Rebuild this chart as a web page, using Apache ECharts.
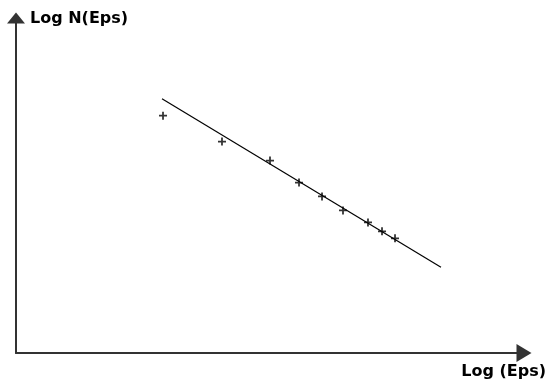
<!DOCTYPE html>
<html>
<head>
<meta charset="utf-8">
<script src="https://cdn.jsdelivr.net/npm/echarts@6/dist/echarts.min.js"></script>
<style>html,body{margin:0;padding:0;background:#fff}#c{width:550px;height:380px}</style>
</head>
<body>
<div id="c"></div>
<script>
// Measured points (log eps, log N(eps)) in arbitrary axis units
var logEps = [2.894, 4.055, 5.0, 5.571, 6.024, 6.437, 6.929, 7.205, 7.461];
var logN   = [7.083, 6.310, 5.744, 5.089, 4.673, 4.256, 3.899, 3.631, 3.423];
// Fitted regression line end points
var fitX = [2.874, 8.366];
var fitY = [7.589, 2.560];
var xName = 'Log (Eps)';
var yName = 'Log N(Eps)';

var pts = logEps.map(function (x, i) { return [x, logN[i]]; });
var fit = fitX.map(function (x, i) { return [x, fitY[i]]; });

var chart = echarts.init(document.getElementById('c'), null, {renderer: 'canvas'});
var axisCol = '#333';
var nameStyle = {fontFamily: 'DejaVu Sans', fontWeight: 'bold', fontSize: 16, color: '#000'};
chart.setOption({
  animation: false,
  backgroundColor: '#fff',
  grid: {left: 16, right: 26, top: 18, bottom: 26},
  xAxis: {
    type: 'value', min: 0, max: 10,
    axisLine: {lineStyle: {color: axisCol, width: 2}, symbol: ['none', 'triangle'], symbolSize: [18, 15], symbolOffset: [0, 0]},
    axisTick: {show: false}, axisLabel: {show: false}, splitLine: {show: false},
    name: xName, nameLocation: 'end', nameGap: 22,
    nameTextStyle: Object.assign({align: 'right', verticalAlign: 'top', padding: [11, 0, 0, 0]}, nameStyle)
  },
  yAxis: {
    type: 'value', min: 0, max: 10,
    axisLine: {lineStyle: {color: axisCol, width: 2}, symbol: ['none', 'triangle'], symbolSize: [18, 11], symbolOffset: [0, 0]},
    axisTick: {show: false}, axisLabel: {show: false}, splitLine: {show: false},
    name: yName, nameLocation: 'end', nameGap: -1,
    nameTextStyle: Object.assign({align: 'left', verticalAlign: 'middle', padding: [0, 0, 0, 14]}, nameStyle)
  },
  series: [
    {
      type: 'line', data: fit, symbol: 'none',
      lineStyle: {color: '#000', width: 1.2}, silent: true
    },
    {
      type: 'scatter', data: pts,
      symbol: 'path://M2.8,0h1.6v2.8h2.8v1.6h-2.8v2.8h-1.6v-2.8h-2.8v-1.6h2.8z', symbolSize: 8,
      itemStyle: {color: '#000'}
    }
  ]
});
</script>
</body>
</html>
